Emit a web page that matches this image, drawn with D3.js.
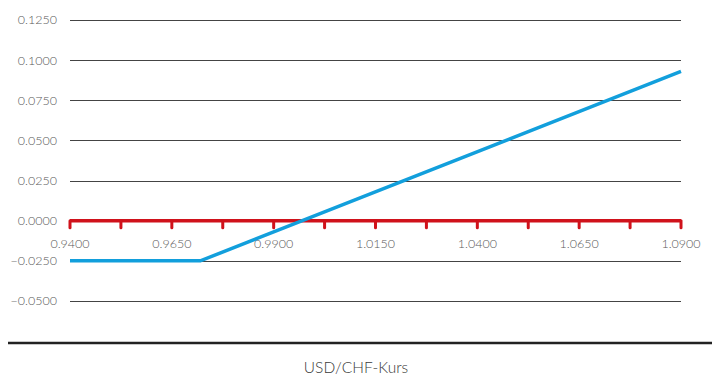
<!DOCTYPE html>
<html>
<head>
<meta charset="utf-8">
<script src="https://cdn.jsdelivr.net/npm/d3@7"></script>
<style>
  body { margin: 0; background: #fff; }
  text { font-family: Lato, "Open Sans", sans-serif; font-weight: 300; fill: #5a5a5a; }
</style>
</head>
<body>
<div id="chart"></div>
<script>
// payoff profile (USD/CHF rate -> result)
const rates = [0.94, 0.972, 1.09];
const payoff = [-0.025, -0.025, 0.093];
const yTicks = [-0.05, -0.025, 0, 0.025, 0.05, 0.075, 0.1, 0.125];
const xLabels = [0.94, 0.965, 0.99, 1.015, 1.04, 1.065, 1.09];
const xTickMarks = d3.range(0, 13).map(i => 0.94 + i * 0.0125);
const axisTitle = 'USD/CHF-Kurs';

const width = 713, height = 376;
const margin = {left: 70, right: 32, top: 20, bottom: 75};

const svg = d3.select('#chart').append('svg')
  .attr('width', width)
  .attr('height', height);

const x = d3.scaleLinear().domain([0.94, 1.09]).range([margin.left, width - margin.right]);
const y = d3.scaleLinear().domain([-0.05, 0.125]).range([301, 20]);

// horizontal grid
svg.append('g')
  .selectAll('line')
  .data(yTicks.filter(d => d !== 0))
  .join('line')
  .attr('x1', x(0.94))
  .attr('x2', x(1.09))
  .attr('y1', d => Math.round(y(d)) + 0.5)
  .attr('y2', d => Math.round(y(d)) + 0.5)
  .attr('stroke', '#444')
  .attr('stroke-width', 1);

// y labels
svg.append('g')
  .selectAll('text')
  .data(yTicks)
  .join('text')
  .attr('x', 57)
  .attr('y', d => y(d))
  .attr('dy', '0.35em')
  .attr('text-anchor', 'end')
  .style('font-size', '12.5px')
  .text(d => d3.format('.4f')(d));

// red zero axis with ticks
const red = '#d0121b';
svg.append('line')
  .attr('x1', x(0.94))
  .attr('x2', x(1.09))
  .attr('y1', y(0))
  .attr('y2', y(0))
  .attr('stroke', red)
  .attr('stroke-width', 3.5);

svg.append('g')
  .selectAll('line')
  .data(xTickMarks)
  .join('line')
  .attr('x1', d => x(d))
  .attr('x2', d => x(d))
  .attr('y1', y(0))
  .attr('y2', y(0) + 7)
  .attr('stroke', red)
  .attr('stroke-width', 3)
  .attr('stroke-linecap', 'round');

svg.append('g')
  .selectAll('text')
  .data(xLabels)
  .join('text')
  .attr('x', d => x(d))
  .attr('y', y(0) + 27)
  .attr('text-anchor', 'middle')
  .style('font-size', '12.5px')
  .text(d => d3.format('.4f')(d));

// payoff line
const line = d3.line()
  .x(d => x(d[0]))
  .y(d => y(d[1]));

svg.append('path')
  .datum(rates.map((r, i) => [r, payoff[i]]))
  .attr('d', line)
  .attr('fill', 'none')
  .attr('stroke', '#129fdc')
  .attr('stroke-width', 3.5);

// bottom rule and title
svg.append('line')
  .attr('x1', 8)
  .attr('x2', 712)
  .attr('y1', 343)
  .attr('y2', 343)
  .attr('stroke', '#222')
  .attr('stroke-width', 2.5);

svg.append('text')
  .attr('x', 356)
  .attr('y', 373)
  .attr('text-anchor', 'middle')
  .style('font-size', '15.5px')
  .style('fill', '#3a3a3a')
  .text(axisTitle);
</script>
</body>
</html>
